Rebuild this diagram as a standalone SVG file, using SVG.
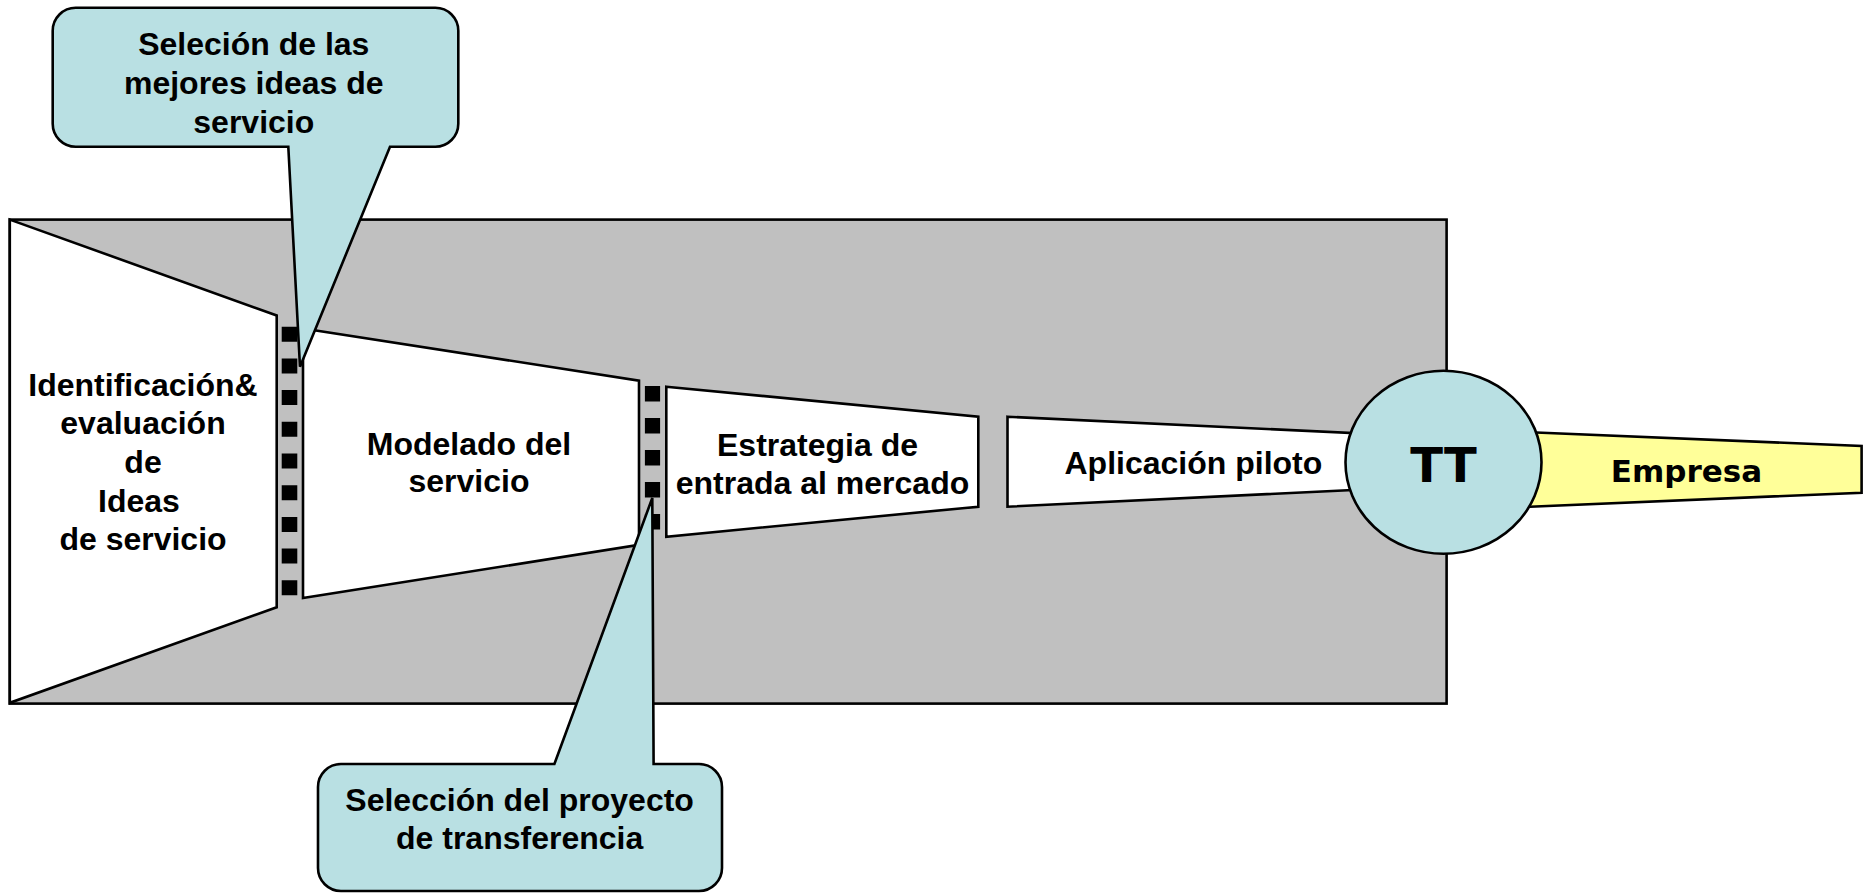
<svg xmlns="http://www.w3.org/2000/svg" width="1870" height="893" viewBox="0 0 1870 893">
<style>
.ln{stroke:#000;stroke-width:2.6;stroke-linejoin:miter}
.wh{fill:#fff}
.gr{fill:#c0c0c0}
.cy{fill:#b9e0e3}
.ye{fill:#ffff99}
.t{font-family:"Liberation Sans",Arial,sans-serif;font-weight:bold;font-size:32px;fill:#000;text-anchor:middle}
.v{font-family:"DejaVu Sans",Verdana,sans-serif;font-weight:bold;fill:#000;text-anchor:middle}
.dash{stroke:#000;fill:none}
</style>
<rect width="1870" height="893" fill="#fff"/>
<g id="background">
<rect class="gr ln" x="9.8" y="219.6" width="1436.8" height="484"/>
</g>
<g id="node-identificacion">
<polygon class="wh ln" points="9.8,219.6 276.7,315.5 276.7,607.3 9.8,702.8"/>
<text class="t" x="143" y="395.7">Identificación&amp;</text>
<text class="t" x="143" y="434.3">evaluación</text>
<text class="t" x="143" y="472.9">de</text>
<text class="t" x="139" y="511.5">Ideas</text>
<text class="t" x="143" y="550">de servicio</text>
</g>
<g id="node-modelado">
<polygon class="wh ln" points="303,328.5 639,380.6 639,544.8 303,598.1"/>
<text class="t" x="469" y="454.6">Modelado del</text>
<text class="t" x="469" y="492.2">servicio</text>
</g>
<g id="node-estrategia">
<polygon class="wh ln" points="666.3,386.7 978.3,416.7 978.3,506.7 666.3,536.7"/>
<text class="t" x="817.5" y="456">Estrategia de</text>
<text class="t" x="822.5" y="494">entrada al mercado</text>
</g>
<g id="node-aplicacion">
<polygon class="wh ln" points="1007.5,416.7 1446,437.5 1446,485.5 1007.5,506.7"/>
<text class="t" x="1193.4" y="474">Aplicación piloto</text>
</g>
<g id="node-empresa">
<polygon class="ye ln" points="1450,429 1861.6,446 1861.6,492.7 1450,510.2"/>
<text class="v" x="1686.5" y="481.7" font-size="31">Empresa</text>
</g>
<g id="node-tt">
<ellipse class="cy ln" cx="1443.5" cy="462.3" rx="98" ry="91.5"/>
<text class="v" x="1443.5" y="481.7" font-size="48">TT</text>
</g>
<g id="connectors">
<line class="dash" x1="289.5" y1="326.7" x2="289.5" y2="596" stroke-width="15.6" stroke-dasharray="15 16.7"/>
<line class="dash" x1="652.5" y1="386" x2="652.5" y2="530" stroke-width="15.2" stroke-dasharray="15.6 16.4"/>
</g>
<g id="callout-top">
<path class="cy ln" d="M75.7,7.8 H435.3 A23,23 0 0 1 458.3,30.8 V123.7 A23,23 0 0 1 435.3,146.7 H390 L300,366.7 L288.3,146.7 H75.7 A23,23 0 0 1 52.7,123.7 V30.8 A23,23 0 0 1 75.7,7.8 Z"/>
<text class="t" x="253.8" y="55">Seleción de las</text>
<text class="t" x="253.8" y="94">mejores ideas de</text>
<text class="t" x="253.8" y="132.7">servicio</text>
</g>
<g id="callout-bottom">
<path class="cy ln" d="M341,764 H554.4 L652.3,498 L653.6,764 H699 A23,23 0 0 1 722,787 V868 A23,23 0 0 1 699,891 H341 A23,23 0 0 1 318,868 V787 A23,23 0 0 1 341,764 Z"/>
<text class="t" x="519.6" y="810.7">Selección del proyecto</text>
<text class="t" x="519.6" y="849.3">de transferencia</text>
</g>
</svg>
